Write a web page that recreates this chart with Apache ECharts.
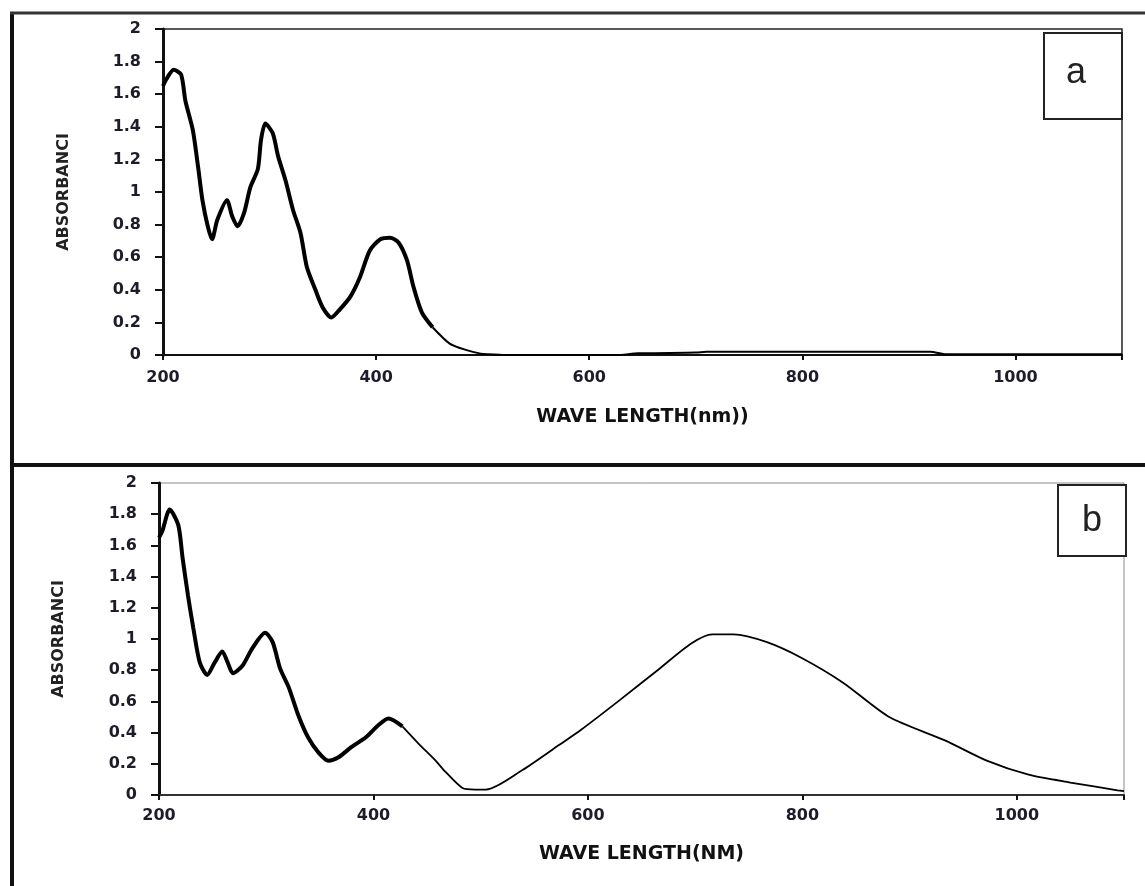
<!DOCTYPE html>
<html>
<head>
<meta charset="utf-8">
<title>Absorbance spectra (a) and (b)</title>
<script src="https://cdn.jsdelivr.net/npm/echarts@6/dist/echarts.min.js"></script>
<style>
  html, body { margin: 0; padding: 0; background: #fff; }
  #chart { width: 1145px; height: 886px; }
</style>
</head>
<body>
<div id="chart"></div>
<script>
// spectrum (a)
var waveA = [200, 203, 210, 217, 221, 228, 233, 237, 242, 246, 251, 260, 265, 270, 276, 282, 289, 292, 296, 303,
             308, 315, 322, 329, 335, 343, 350, 358, 366, 376, 385, 394, 404, 413, 421, 429, 435, 443, 453, 469,
             485, 497, 505, 522, 610, 625, 646, 700, 710, 920, 935, 1100];
var absA  = [1.65, 1.69, 1.75, 1.72, 1.56, 1.38, 1.15, 0.95, 0.79, 0.71, 0.83, 0.95, 0.85, 0.79, 0.87, 1.03, 1.14, 1.32, 1.42, 1.36,
             1.22, 1.07, 0.89, 0.75, 0.54, 0.40, 0.29, 0.23, 0.28, 0.36, 0.48, 0.64, 0.71, 0.72, 0.69, 0.58, 0.42, 0.26, 0.17, 0.07,
             0.03, 0.01, 0.005, 0, 0, 0, 0.01, 0.015, 0.02, 0.02, 0.005, 0.005];

// spectrum (b)
var waveB = [200, 203, 210, 218, 222, 227, 232, 238, 245, 252, 259, 264, 269, 278, 287, 299, 306, 313, 321, 330,
             339, 349, 358, 367, 380, 393, 405, 414, 427, 442, 458, 467, 483, 495, 505, 539, 573, 594, 630, 665,
             696, 716, 736, 767, 799, 838, 881, 933, 972, 1011, 1050, 1094, 1100];
var absB  = [1.65, 1.69, 1.83, 1.73, 1.52, 1.28, 1.07, 0.85, 0.77, 0.85, 0.92, 0.85, 0.78, 0.83, 0.94, 1.04, 0.98, 0.81, 0.69, 0.51,
             0.37, 0.27, 0.22, 0.24, 0.31, 0.37, 0.45, 0.49, 0.44, 0.33, 0.22, 0.15, 0.045, 0.035, 0.035, 0.16, 0.32, 0.42, 0.61, 0.80,
             0.97, 1.03, 1.03, 0.98, 0.88, 0.72, 0.50, 0.35, 0.22, 0.13, 0.08, 0.03, 0.025];

var xTicks = [200, 400, 600, 800, 1000];
var panelLabels = ['a', 'b'];
var xNames = ['WAVE LENGTH(nm))', 'WAVE LENGTH(NM)'];
var yName = 'ABSORBANCI';

// the curve is drawn heavy at the UV end, lighter after this wavelength
var splitA = 453, splitB = 427;

function pairs(xs, ys, from, to) {
  var out = [];
  for (var i = 0; i < xs.length; i++) {
    if (xs[i] >= from && xs[i] <= to) out.push([xs[i], ys[i]]);
  }
  return out;
}

var labelFont = { fontFamily: 'DejaVu Sans', fontWeight: 'bold', fontSize: 16, color: '#1c1c2a' };

function xAxisFor(idx, gap, margin, lineColor) {
  return {
    type: 'value', gridIndex: idx, min: 200, max: 1100, interval: 200,
    name: xNames[idx], nameLocation: 'middle', nameGap: gap,
    nameTextStyle: { fontFamily: 'DejaVu Sans', fontWeight: 'bold', fontSize: 19, color: '#111' },
    axisLine: { onZero: false, lineStyle: { color: lineColor, width: 2 } },
    axisTick: { length: 5, lineStyle: { color: '#111', width: 2 } },
    axisLabel: Object.assign({ margin: margin, formatter: function (v) {
      return xTicks.indexOf(v) >= 0 ? String(v) : '';
    } }, labelFont),
    splitLine: { show: false }
  };
}

function yAxisFor(idx, gap) {
  return {
    type: 'value', gridIndex: idx, min: 0, max: 2, interval: 0.2,
    name: yName, nameLocation: 'middle', nameGap: gap, nameRotate: 90,
    nameTextStyle: { fontFamily: 'DejaVu Sans', fontWeight: 'bold', fontSize: 16, color: '#222' },
    axisLine: { show: true, lineStyle: { color: '#111', width: 3 } },
    axisTick: { show: true, length: 8, lineStyle: { color: '#111', width: 2 } },
    axisLabel: Object.assign({ margin: 22 }, labelFont),
    splitLine: { show: false }
  };
}

function curve(idx, data, width) {
  return {
    type: 'line', xAxisIndex: idx, yAxisIndex: idx, data: data,
    symbol: 'none', smooth: 0.25, z: 3,
    lineStyle: { color: '#000', width: width }
  };
}

var chart = echarts.init(document.getElementById('chart'));
chart.setOption({
  animation: false,
  backgroundColor: '#fff',
  grid: [
    { left: 163, top: 29, width: 959, height: 326, show: true, borderColor: '#222', borderWidth: 1.5 },
    { left: 159, top: 483, width: 965, height: 312, show: true, borderColor: '#8a8a8a', borderWidth: 1 }
  ],
  xAxis: [xAxisFor(0, 53, 15, '#111'), xAxisFor(1, 50, 13, '#333')],
  yAxis: [yAxisFor(0, 91), yAxisFor(1, 92)],
  series: [
    curve(0, pairs(waveA, absA, 200, splitA), 4),
    curve(0, pairs(waveA, absA, splitA, 1100), 2),
    curve(1, pairs(waveB, absB, 200, splitB), 4),
    curve(1, pairs(waveB, absB, splitB, 1100), 1.8)
  ],
  graphic: [
    // outer frame and the divider between the panels
    { type: 'line', shape: { x1: 12, y1: 12, x2: 12, y2: 886 }, style: { stroke: '#111', lineWidth: 4 } },
    { type: 'line', shape: { x1: 10, y1: 13, x2: 1145, y2: 13 }, style: { stroke: '#333', lineWidth: 3 } },
    { type: 'line', shape: { x1: 10, y1: 465, x2: 1145, y2: 465 }, style: { stroke: '#111', lineWidth: 4 } },
    // panel tags
    { type: 'rect', shape: { x: 1044, y: 33, width: 78, height: 86 }, style: { fill: '#fff', stroke: '#222', lineWidth: 2 }, z: 10 },
    { type: 'text', x: 1076, y: 73, z: 11, style: { text: panelLabels[0], font: '36px "Liberation Sans"', fill: '#222', align: 'center', verticalAlign: 'middle' } },
    { type: 'rect', shape: { x: 1058, y: 485, width: 68, height: 71 }, style: { fill: '#fff', stroke: '#222', lineWidth: 2 }, z: 10 },
    { type: 'text', x: 1092, y: 521, z: 11, style: { text: panelLabels[1], font: '36px "Liberation Sans"', fill: '#222', align: 'center', verticalAlign: 'middle' } }
  ]
});
</script>
</body>
</html>
